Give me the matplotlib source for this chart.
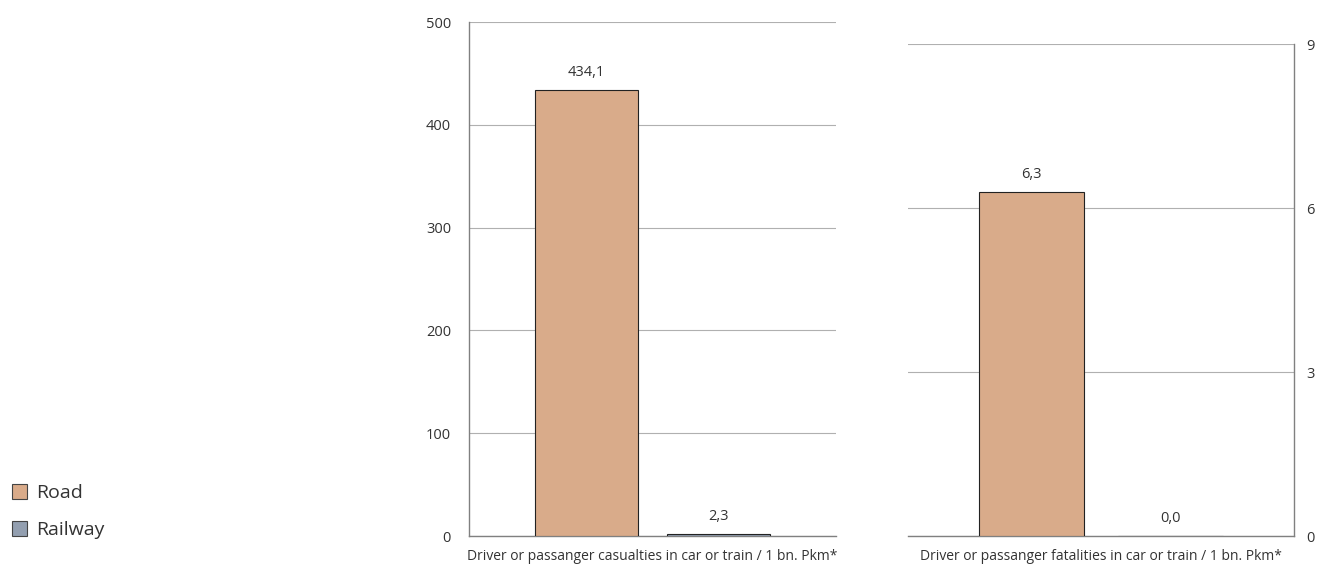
import matplotlib
matplotlib.use("Agg")
import matplotlib.pyplot as plt
from matplotlib.patches import Patch

plt.rcParams['font.family'] = ['Open Sans', 'DejaVu Sans']

series = ["Road", "Railway"]
colors = ["#D9AB8A", "#939FB0"]
casualties = [434.1, 2.3]
fatalities = [6.3, 0.0]
casualty_labels = ["434,1", "2,3"]
fatality_labels = ["6,3", "0,0"]
left_ticks = [0, 100, 200, 300, 400, 500]
right_ticks = [0, 3, 6, 9]
xlabel_left = "Driver or passanger casualties in car or train / 1 bn. Pkm*"
xlabel_right = "Driver or passanger fatalities in car or train / 1 bn. Pkm*"

W, H = 1318, 567
fig = plt.figure(figsize=(W / 100, H / 100), dpi=100)

def px_axes(x0, x1, ytop, ybot):
    return fig.add_axes([x0 / W, 1 - ybot / H, (x1 - x0) / W, (ybot - ytop) / H])

ax1 = px_axes(469, 836, 22, 536)
ax2 = px_axes(908, 1294, 44, 536)

txt = "#333333"
grid = "#B0B0B0"
spine = "#808080"
a = 0.889
xs = [0, 1]

for ax, vals, labels, ticks, ymax, xl, side, bw in [
    (ax1, casualties, casualty_labels, left_ticks, 500, xlabel_left, "left", 0.78),
    (ax2, fatalities, fatality_labels, right_ticks, 9, xlabel_right, "right", 0.76),
]:
    ax.bar(xs, vals, width=bw, color=colors, edgecolor="#222222", linewidth=0.8, zorder=3)
    ax.set_xlim(-a, 1 + a)
    ax.set_ylim(0, ymax)
    ax.set_yticks(ticks)
    ax.set_yticklabels([str(t) for t in ticks])
    ax.yaxis.grid(True, color=grid, linewidth=0.8, zorder=0)
    ax.set_xticks([])
    for s in ["top", "left", "right", "bottom"]:
        ax.spines[s].set_visible(False)
    ax.spines["bottom"].set_visible(True)
    ax.spines["bottom"].set_color(spine)
    ax.spines["bottom"].set_linewidth(1.0)
    ax.spines[side].set_visible(True)
    ax.spines[side].set_color(spine)
    ax.spines[side].set_linewidth(1.0)
    if side == "right":
        ax.yaxis.tick_right()
        ax.tick_params(axis="y", length=0, pad=9, labelsize=10.5, labelcolor=txt)
    else:
        ax.tick_params(axis="y", length=0, pad=13, labelsize=10.5, labelcolor=txt)
    for x, v, lab in zip(xs, vals, labels):
        ax.annotate(lab, (x, v), xytext=(0, 7), textcoords="offset points",
                    ha="center", va="bottom", fontsize=10.5, color=txt)
    ax.set_xlabel(xl, fontsize=10, color=txt, labelpad=9)

handles = [Patch(facecolor=c, edgecolor="#444444", linewidth=0.8) for c in colors]
fig.legend(handles, series, loc="lower left", bbox_to_anchor=(12 / W, 1 - 539 / H),
           frameon=False, fontsize=14, handlelength=0.78, handleheight=0.78,
           handletextpad=0.45, labelspacing=0.95, labelcolor=txt,
           borderpad=0, borderaxespad=0)

fig.savefig("out.png", dpi=100, facecolor="white")
